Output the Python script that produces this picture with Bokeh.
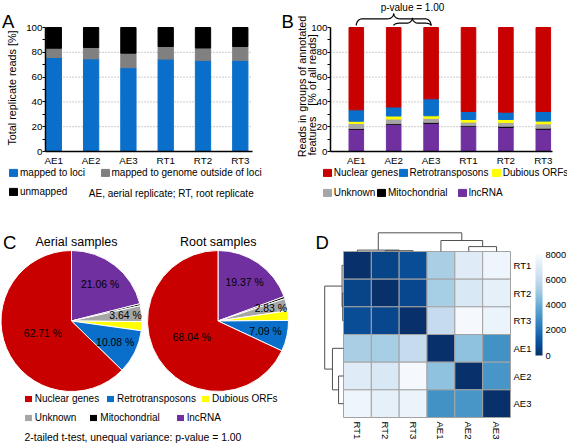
import math
import numpy as np
from bokeh.plotting import figure
from bokeh.layouts import column, row
from bokeh.models import (Range1d, FixedTicker, Label, Legend, LegendItem,
                          ColumnDataSource, LinearColorMapper, ColorBar)
from bokeh.transform import transform
from bokeh.palettes import Blues9
from bokeh.embed import file_html
from bokeh.resources import INLINE

FONT = "Liberation Sans"

# ---------------- data ----------------
samples = ["AE1", "AE2", "AE3", "RT1", "RT2", "RT3"]

# Panel A: % of total replicate reads
mapped_to_loci = [75.8, 74.7, 67.6, 74.5, 73.5, 73.5]
mapped_outside_loci = [7.5, 9.2, 11.7, 10.2, 10.0, 11.2]
unmapped = [16.7, 16.1, 20.7, 15.3, 16.5, 15.3]
a_series = ["mapped to loci", "mapped to genome outside of loci", "unmapped"]
a_colors = ["#0a6fca", "#808080", "#000000"]

# Panel B: % of all reads per annotated feature group (stack order bottom -> top)
lncrna = [18.0, 21.8, 22.8, 20.3, 19.5, 18.0]
mitochondrial = [0.6, 0.6, 0.7, 0.5, 0.9, 0.8]
unknown = [4.0, 3.8, 3.3, 2.9, 3.0, 3.5]
dubious_orfs = [1.8, 2.4, 2.0, 2.1, 2.4, 2.2]
retrotransposons = [9.2, 7.3, 13.7, 6.5, 5.9, 7.8]
nuclear_genes = [66.4, 64.1, 57.5, 67.7, 68.3, 67.7]
groups = ["lncRNA", "Mitochondrial", "Unknown", "Dubious ORFs", "Retrotransposons", "Nuclear genes"]
group_colors = ["#7030a0", "#000000", "#a6a6a6", "#ffff00", "#0a6fca", "#c80000"]
p_value_text = "p-value = 1.00"

# Panel C: pie percentages (same group order)
aerial_pct = [21.06, 0.45, 3.64, 2.06, 10.08, 62.71]
root_pct = [19.37, 0.50, 2.83, 2.17, 7.09, 68.04]
pie_titles = ["Aerial samples", "Root samples"]
labelled = [True, False, True, False, True, True]
footer_text = "2-tailed t-test, unequal variance: p-value = 1.00"

# Panel D: sample distance heatmap
hm_labels = ["RT1", "RT2", "RT3", "AE1", "AE2", "AE3"]
distance = [
    [0, 600, 900, 5300, 7000, 7600],
    [600, 0, 700, 5200, 6800, 7300],
    [900, 700, 0, 6000, 7900, 7500],
    [5300, 5200, 6000, 0, 4700, 3000],
    [7000, 6800, 7900, 4700, 0, 3150],
    [7600, 7300, 7500, 3000, 3150, 0],
]
merges = [("RT2", "RT3", 350), ("RT1", "m0", 600), ("AE2", "AE3", 2100),
          ("AE1", "m2", 4700), ("m1", "m3", 8000)]
cb_ticks = [0, 2000, 4000, 6000, 8000]

# ---------------- layout ----------------
TOP_H, BOT_H = 225, 220
A_W, B_W = 280, 287
C_W, D_W = 300, 267
Y_PX = 1.24  # px per percent in bar panels
AXIS_Y = 151  # page y of the 0 line in bar panels
TICK_FS = "9.8px"


def style_text(lbl, size, align="left", baseline="middle"):
    lbl.text_font = FONT
    lbl.text_font_size = size
    lbl.text_align = align
    lbl.text_baseline = baseline
    lbl.text_color = "black"
    return lbl


def add_key(p, renderer, label, box_left, box_top, ox, oy, fh, index=None):
    vx = box_left - ox
    vy = (oy + fh) - (box_top + 9.5)
    item = LegendItem(label=label, renderers=[renderer], index=index)
    lg = Legend(items=[item], location=(vx, vy), orientation="horizontal",
                glyph_width=10, glyph_height=9, label_height=9, label_standoff=2,
                padding=0, margin=0, spacing=0, border_line_color=None,
                background_fill_alpha=0, label_text_font=FONT,
                label_text_font_size="10px", label_text_color="black")
    p.add_layout(lg)


def make_bar(ox, fig_w, axis_left, axis_right, first_center, pitch, bar_w, colors, data):
    x0 = 0.5 - (first_center - axis_left) / pitch
    conv = lambda xr, yr: (x0 + (xr - axis_left) / pitch, (AXIS_Y - yr) / Y_PX)
    xs0, _ = conv(ox, 0)
    xs1, _ = conv(ox + fig_w, 0)
    p = figure(width=fig_w, height=TOP_H, x_range=Range1d(xs0, xs1),
               y_range=Range1d((AXIS_Y - TOP_H) / Y_PX, AXIS_Y / Y_PX),
               output_backend="svg", toolbar_location=None, min_border=0)
    p.outline_line_color = None
    p.grid.visible = False
    x_end = conv(axis_right, 0)[0]
    gl = [20, 40, 60, 80]
    p.segment(x0=[x0] * len(gl), x1=[x_end] * len(gl), y0=gl, y1=gl,
              line_color="#9a9a9a", line_dash="1 2", line_width=1, level="underlay")
    xs = [i + 0.5 for i in range(len(samples))]
    cols = {f"s{i}": d for i, d in enumerate(data)}
    src = ColumnDataSource(dict(x=xs, **cols))
    rends = p.vbar_stack(list(cols.keys()), x="x", width=bar_w, color=colors, source=src)
    yax = p.yaxis[0]
    yax.fixed_location = x0
    yax.ticker = FixedTicker(ticks=[0, 20, 40, 60, 80, 100], minor_ticks=[10, 30, 50, 70, 90])
    yax.bounds = (0, 100)
    yax.axis_line_width = 1.5
    yax.major_tick_line_width = 1.2
    yax.minor_tick_line_width = 1.2
    yax.major_tick_in = 0; yax.major_tick_out = 3
    yax.minor_tick_in = 0; yax.minor_tick_out = 3
    yax.major_label_standoff = 0
    yax.major_label_text_font = FONT
    yax.major_label_text_font_size = TICK_FS
    yax.major_label_text_color = "black"
    xax = p.xaxis[0]
    xax.fixed_location = 0
    xax.bounds = (x0, x_end)
    xax.ticker = FixedTicker(ticks=xs)
    xax.major_label_overrides = {x: s for x, s in zip(xs, samples)}
    xax.axis_line_width = 1.5
    xax.major_tick_line_color = None
    xax.major_tick_in = 0; xax.major_tick_out = 0
    xax.minor_tick_line_color = None
    xax.major_label_standoff = 3
    xax.major_label_text_font = FONT
    xax.major_label_text_font_size = TICK_FS
    xax.major_label_text_color = "black"
    return p, rends, conv


# ---------------- Panel A ----------------
pA, rA, cA = make_bar(0, A_W, 45, 252, 53.3, 37.3, 0.41, a_colors,
                      [mapped_to_loci, mapped_outside_loci, unmapped])
x, y = cA(1.5, 20.7)
pA.add_layout(style_text(Label(x=x, y=y, text="A"), "18.5px", "left", "alphabetic"))
x, y = cA(11.7, 87.5)
pA.add_layout(style_text(Label(x=x, y=y, text="Total replicate reads [%]", angle=math.pi / 2),
                         "10.8px", "center", "middle"))
add_key(pA, rA[0], a_series[0], 8, 168, 0, 0, TOP_H)
add_key(pA, rA[1], a_series[1], 99.5, 168, 0, 0, TOP_H)
add_key(pA, rA[2], a_series[2], 8, 187.5, 0, 0, TOP_H)
x, y = cA(88.3, 193)
pA.add_layout(style_text(Label(x=x, y=y, text="AE, aerial replicate; RT, root replicate"),
                         "10px", "left", "middle"))

# ---------------- Panel B ----------------
pB, rB, cB = make_bar(A_W, B_W, 330, 551.5, 355.8, 37.4, 0.39, group_colors,
                      [lncrna, mitochondrial, unknown, dubious_orfs, retrotransposons, nuclear_genes])
x, y = cB(281, 20.7)
pB.add_layout(style_text(Label(x=x, y=y, text="B"), "18.5px", "left", "alphabetic"))
x, y = cB(301.7, 86)
pB.add_layout(style_text(Label(x=x, y=y, text="Reads in groups of annotated", angle=math.pi / 2),
                         "10.8px", "center", "middle"))
x, y = cB(311.8, 155)
pB.add_layout(style_text(Label(x=x, y=y, text="features", angle=math.pi / 2),
                         "10.8px", "left", "middle"))
x, y = cB(311.8, 69.5)
pB.add_layout(style_text(Label(x=x, y=y, text="[% of all reads]", angle=math.pi / 2),
                         "10.8px", "center", "middle"))


def brace(x1, x2, y_end, y_sh, y_tip, r):
    xm = (x1 + x2) / 2
    t = np.linspace(0, np.pi / 2, 14)
    q1x = x1 + r - r * np.cos(t); q1y = y_end + (y_sh - y_end) * np.sin(t)
    q2x = xm - r + r * np.sin(t); q2y = y_tip - (y_tip - y_sh) * np.cos(t)
    lx = np.concatenate([q1x, q2x]); ly = np.concatenate([q1y, q2y])
    rx = 2 * xm - lx[::-1]; ry = ly[::-1]
    return list(np.concatenate([lx, rx])), list(np.concatenate([ly, ry]))


bx1, by1 = brace(0.5, 2.5, (AXIS_Y - 25) / Y_PX, (AXIS_Y - 18.3) / Y_PX, (AXIS_Y - 12.7) / Y_PX, 0.16)
bx2, by2 = brace(1.5, 2.5, (AXIS_Y - 25) / Y_PX, (AXIS_Y - 22.7) / Y_PX, (AXIS_Y - 17.3) / Y_PX, 0.16)
pB.multi_line(xs=[bx1, bx2], ys=[by1, by2], line_color="black", line_width=1.2)
x, y = cB(412, 6.8)
pB.add_layout(style_text(Label(x=x, y=y, text=p_value_text), "10px", "center", "middle"))
# legend (rB order: lncRNA, Mito, Unknown, Dubious, Retro, Nuclear)
add_key(pB, rB[5], groups[5], 321.7, 168, A_W, 0, TOP_H)
add_key(pB, rB[4], groups[4], 397.5, 168, A_W, 0, TOP_H)
add_key(pB, rB[3], groups[3], 490.7, 168, A_W, 0, TOP_H)
add_key(pB, rB[2], groups[2], 321.7, 188, A_W, 0, TOP_H)
add_key(pB, rB[1], groups[1], 376, 188, A_W, 0, TOP_H)
add_key(pB, rB[0], groups[0], 456.7, 188, A_W, 0, TOP_H)

# ---------------- Panel C ----------------
pC = figure(width=C_W, height=BOT_H, x_range=Range1d(0, C_W), y_range=Range1d(0, BOT_H),
            min_border=0, x_axis_location=None, y_axis_location=None,
            output_backend="svg", toolbar_location=None)
pC.grid.visible = False
pC.outline_line_color = None
def cxy(xr, yr): return xr, (TOP_H + BOT_H) - yr

R = 70.5
label_frac = [0.66, 0, 0.77, 0, 0.69, 0.44]
pie_rends = []
for pct, (cxr, cyr), title, txr in [(aerial_pct, (71, 320.5), pie_titles[0], 76),
                                      (root_pct, (217.5, 320.5), pie_titles[1], 217.7)]:
    cum = np.concatenate([[0], np.cumsum(pct)])
    start = np.pi / 2 - 2 * np.pi * cum[:-1] / 100
    end = np.pi / 2 - 2 * np.pi * cum[1:] / 100
    cx, cy = cxy(cxr, cyr)
    src = ColumnDataSource(dict(start=start, end=end, color=group_colors))
    r = pC.wedge(x=cx, y=cy, radius=R, start_angle="start", end_angle="end",
                 direction="clock", fill_color="color", line_color="white",
                 line_width=1, source=src)
    pie_rends.append(r)
    for i, v in enumerate(pct):
        if not labelled[i]:
            continue
        mid = (start[i] + end[i]) / 2
        lx = cx + R * label_frac[i] * math.cos(mid)
        ly = cy + R * label_frac[i] * math.sin(mid)
        pC.add_layout(style_text(Label(x=lx, y=ly, text=f"{v:.2f} %"), "10.4px", "center", "middle"))
    tx, ty = cxy(txr, 241)
    pC.add_layout(style_text(Label(x=tx, y=ty, text=title), "12.5px", "center", "middle"))

x, y = cxy(2.5, 241.7)
pC.add_layout(style_text(Label(x=x, y=y, text="C"), "18.5px", "left", "alphabetic"))
rc = pie_rends[0]
add_key(pC, rc, groups[5], 22.7, 394.3, 0, TOP_H, BOT_H, index=5)
add_key(pC, rc, groups[4], 105, 394.3, 0, TOP_H, BOT_H, index=4)
add_key(pC, rc, groups[3], 200, 394.3, 0, TOP_H, BOT_H, index=3)
add_key(pC, rc, groups[2], 22.7, 413.3, 0, TOP_H, BOT_H, index=2)
add_key(pC, rc, groups[1], 88.3, 413.3, 0, TOP_H, BOT_H, index=1)
add_key(pC, rc, groups[0], 175, 413.3, 0, TOP_H, BOT_H, index=0)
x, y = cxy(24, 436.7)
pC.add_layout(style_text(Label(x=x, y=y, text=footer_text), "10.4px", "left", "middle"))

# ---------------- Panel D ----------------
HM_L, HM_R, HM_T, HM_B = 343, 510, 251, 417
cell_w = (HM_R - HM_L) / 6
cell_h = (HM_B - HM_T) / 6
def dxy(xr, yr): return (xr - HM_L) / cell_w, 6 - (yr - HM_T) / cell_h
dx0, dy0 = dxy(C_W, TOP_H + BOT_H)
dx1, dy1 = dxy(C_W + D_W, TOP_H)
pD = figure(width=D_W, height=BOT_H, x_range=Range1d(dx0, dx1), y_range=Range1d(dy0, dy1),
            min_border=0, x_axis_location="below", y_axis_location="right",
            output_backend="svg", toolbar_location=None)
pD.grid.visible = False
pD.outline_line_color = None


def interp_palette(pal, n):
    rgb = np.array([[int(c[i:i + 2], 16) for i in (1, 3, 5)] for c in pal], float)
    out = []
    for v in np.linspace(0, len(pal) - 1, n):
        i = min(int(v), len(pal) - 2); f = v - i
        c = rgb[i] * (1 - f) + rgb[i + 1] * f
        out.append("#%02x%02x%02x" % tuple(int(round(k)) for k in c))
    return out


mapper = LinearColorMapper(palette=interp_palette(list(Blues9), 256), low=0, high=8000)
hx, hy, hv = [], [], []
for ri, rowvals in enumerate(distance):
    for ci, v in enumerate(rowvals):
        hx.append(ci + 0.5); hy.append(5.5 - ri); hv.append(v)
pD.rect(x="x", y="y", width=1, height=1, source=ColumnDataSource(dict(x=hx, y=hy, v=hv)),
        fill_color=transform("v", mapper), line_color="#a3a3a3", line_width=1)

# dendrograms
K = 0.675 / 8000
pos = {lab: i + 0.5 for i, lab in enumerate(hm_labels)}
hgt = {lab: 0.0 for lab in hm_labels}
segs = []
for i, (a, b, h) in enumerate(merges):
    segs.append(([pos[a], pos[a], pos[b], pos[b]], [hgt[a], h, h, hgt[b]]))
    pos[f"m{i}"] = (pos[a] + pos[b]) / 2
    hgt[f"m{i}"] = h
top_xs = [s[0] for s in segs]
top_ys = [[6 + v * K for v in s[1]] for s in segs]
left_xs = [[-v * K for v in s[1]] for s in segs]
left_ys = [[6 - v for v in s[0]] for s in segs]
pD.multi_line(xs=top_xs + left_xs, ys=top_ys + left_ys, line_color="#505050", line_width=1)

ticks = [i + 0.5 for i in range(6)]
xax = pD.xaxis[0]
xax.fixed_location = 0
xax.bounds = (0, 6)
xax.ticker = FixedTicker(ticks=ticks)
xax.major_label_overrides = {t: lab for t, lab in zip(ticks, hm_labels)}
xax.major_label_orientation = -math.pi / 2
yax = pD.yaxis[0]
yax.fixed_location = 6
yax.bounds = (0, 6)
yax.ticker = FixedTicker(ticks=ticks)
yax.major_label_overrides = {t: lab for t, lab in zip(ticks[::-1], hm_labels)}
for ax in (xax, yax):
    ax.axis_line_color = None
    ax.major_tick_line_color = None
    ax.minor_tick_line_color = None
    ax.major_tick_in = 0; ax.major_tick_out = 0
    ax.major_label_text_font = FONT
    ax.major_label_text_font_size = "9.5px"
    ax.major_label_text_color = "black"
xax.major_label_standoff = 4
yax.major_label_standoff = 3

cb = ColorBar(color_mapper=mapper, ticker=FixedTicker(ticks=cb_ticks), width=7,
              height=101, location=(535 - C_W, (TOP_H + BOT_H) - 355),
              padding=0, margin=0, label_standoff=3, bar_line_color=None,
              major_tick_line_color=None, minor_tick_line_color=None,
              border_line_color=None, background_fill_alpha=0,
              major_label_text_font=FONT, major_label_text_font_size="9.3px",
              major_label_text_color="black")
pD.add_layout(cb)
x, y = dxy(315, 241.7)
pD.add_layout(style_text(Label(x=x, y=y, text="D"), "18.5px", "left", "alphabetic"))

layout = column(row(pA, pB), row(pC, pD))
open("out.html", "w").write(file_html(layout, INLINE))
